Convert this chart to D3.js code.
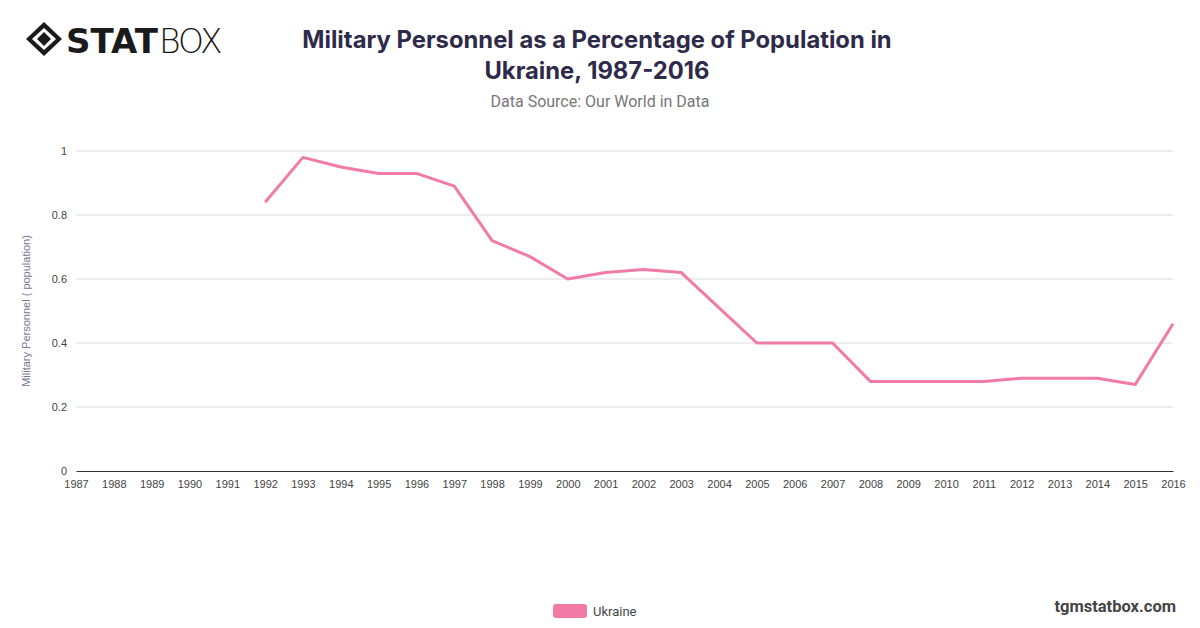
<!DOCTYPE html>
<html><head><meta charset="utf-8">
<script src="https://cdn.jsdelivr.net/npm/d3@7"></script>
<style>body{margin:0;background:#fff;}svg{display:block;}</style>
</head><body>
<svg id="chart" width="1200" height="628"></svg>
<script>
const years = [1987,1988,1989,1990,1991,1992,1993,1994,1995,1996,1997,1998,1999,2000,2001,2002,2003,2004,2005,2006,2007,2008,2009,2010,2011,2012,2013,2014,2015,2016];
const ukraine = [null,null,null,null,null,0.84,0.98,0.95,0.93,0.93,0.89,0.72,0.67,0.60,0.62,0.63,0.62,0.51,0.40,0.40,0.40,0.28,0.28,0.28,0.28,0.29,0.29,0.29,0.27,0.46];
const yTicks = [0,0.2,0.4,0.6,0.8,1];
const seriesName = "Ukraine";

const svg = d3.select("#chart");
const x = d3.scaleLinear().domain([1987,2016]).range([76,1173]);
const y = d3.scaleLinear().domain([0,1]).range([471,151]);
const tickFont = "'Liberation Sans', Arial, sans-serif";

// gridlines
svg.append("g").selectAll("line").data(yTicks.filter(d=>d>0)).join("line")
  .attr("x1",x(1987)).attr("x2",x(2016)).attr("y1",d=>y(d)).attr("y2",d=>y(d))
  .attr("stroke","#dcdcdc").attr("stroke-width",1);

// y axis labels
const yAxis = d3.axisLeft(y).tickValues(yTicks).tickSize(0).tickPadding(9).tickFormat(d=>String(d));
svg.append("g").attr("transform",`translate(${x(1987)},0)`).call(yAxis)
  .call(g=>g.select(".domain").remove())
  .call(g=>g.selectAll("text").attr("font-family",tickFont).attr("font-size",11).attr("fill","#444"));

// x axis
const xAxis = d3.axisBottom(x).tickValues(years).tickSize(0).tickPadding(9).tickFormat(d3.format("d"));
svg.append("g").attr("transform",`translate(0,${y(0)})`).call(xAxis)
  .call(g=>g.select(".domain").attr("stroke","#333").attr("stroke-width",1.2))
  .call(g=>g.selectAll("text").attr("font-family",tickFont).attr("font-size",11).attr("fill","#444"));

// line
const line = d3.line().defined(d=>d[1]!=null).x(d=>x(d[0])).y(d=>y(d[1]));
svg.append("path").datum(years.map((yr,i)=>[yr,ukraine[i]]))
  .attr("d",line).attr("fill","none").attr("stroke","#f27ba6").attr("stroke-width",3).attr("stroke-linejoin","round");

// y axis title
svg.append("text").attr("transform","translate(30,311) rotate(-90)").attr("text-anchor","middle")
  .attr("font-family",tickFont).attr("font-size",11).attr("fill","#77739a")
  .text("Military Personnel ( population)");

// title
const title = svg.append("text").attr("text-anchor","middle").attr("font-family","Inter, sans-serif")
  .attr("font-weight",700).attr("font-size",23.8).attr("fill","#2e2b4a");
title.append("tspan").attr("x",597).attr("y",48).text("Military Personnel as a Percentage of Population in");
title.append("tspan").attr("x",597).attr("y",79).text("Ukraine, 1987-2016");
svg.append("text").attr("x",600).attr("y",107).attr("text-anchor","middle")
  .attr("font-family","Roboto, sans-serif").attr("font-size",16).attr("fill","#777")
  .text("Data Source: Our World in Data");

// logo
const logo = svg.append("g").attr("transform","translate(26,22)");
logo.append("path").attr("d","M18,0 L36,17 L18,34 L0,17 Z").attr("fill","#1a1a1a");
logo.append("path").attr("d","M18,6 L30,17 L18,28 L6,17 Z").attr("fill","#fff");
logo.append("path").attr("d","M18,10 L25,17 L18,24 L11,17 Z").attr("fill","#1a1a1a");
logo.append("text").attr("x",40).attr("y",31).attr("font-family","'DejaVu Sans', sans-serif").attr("font-weight",700)
  .attr("font-size",34).attr("fill","#1a1a1a").attr("letter-spacing",0).text("STAT");
logo.append("text").attr("x",133).attr("y",31).attr("font-family","'DejaVu Sans', sans-serif").attr("font-weight",200)
  .attr("font-size",33).attr("fill","#1a1a1a").attr("letter-spacing",-2).text("BOX");

// legend
svg.append("rect").attr("x",553).attr("y",604).attr("width",34).attr("height",14).attr("rx",3)
  .attr("fill","#f27ba6");
svg.append("text").attr("x",593).attr("y",616).attr("font-family","Roboto, sans-serif").attr("font-size",13)
  .attr("fill","#444").text(seriesName);

// footer
svg.append("text").attr("x",1176).attr("y",612).attr("text-anchor","end").attr("font-family","Roboto, sans-serif")
  .attr("font-weight",700).attr("font-size",16.5).attr("fill","#444").text("tgmstatbox.com");
</script>
</body></html>
